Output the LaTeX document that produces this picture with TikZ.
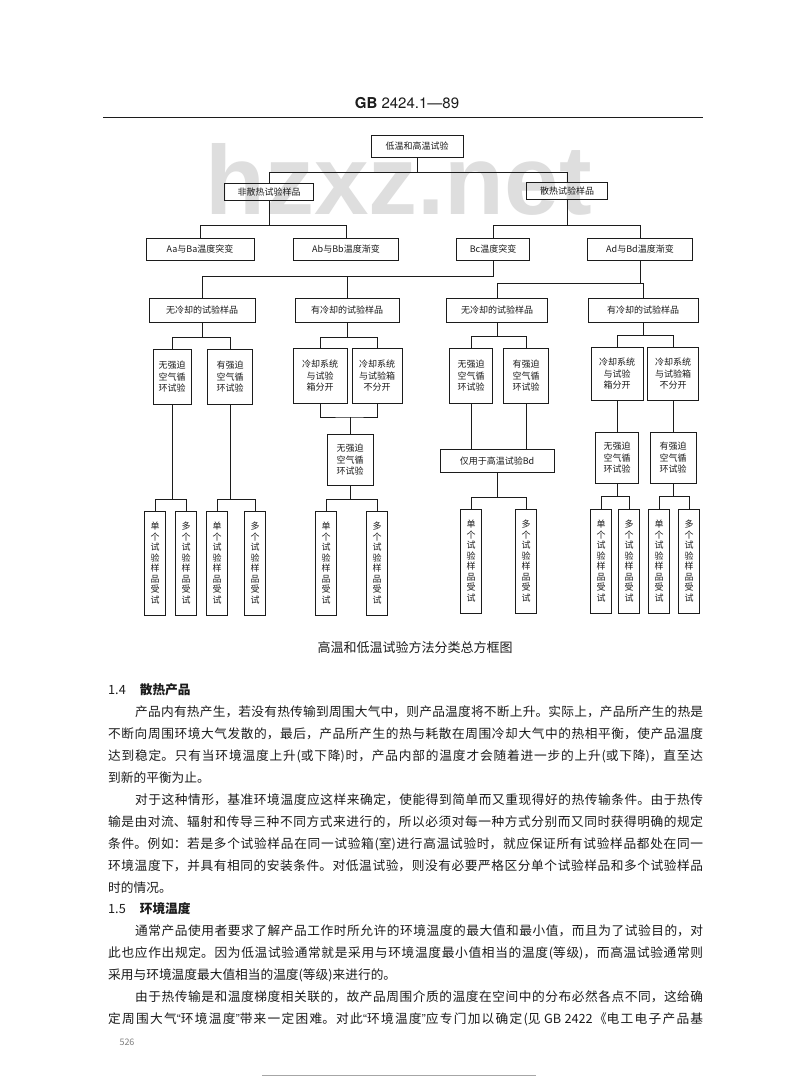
\documentclass[tikz,border=0pt]{standalone}
\usepackage{fontspec}
\setmainfont{Noto Sans CJK SC}
\newfontfamily\headfont{TeX Gyre Heros}
\newfontfamily\markfont{Liberation Sans}
\XeTeXlinebreaklocale "zh"
\XeTeXlinebreakskip=0pt plus 3pt
\definecolor{inkblack}{RGB}{28,28,28}
\definecolor{wmgray}{RGB}{222,222,222}
\newcommand{\lquo}{{\headfont “}}
\newcommand{\rquo}{{\headfont ”}}
\usetikzlibrary{calc}
\tikzset{
  box/.style={draw=inkblack, line width=1pt, inner sep=0pt, text=inkblack, font=\fontsize{9}{11}\selectfont, align=center},
  stack/.style={box, font=\fontsize{9}{11.5}\selectfont},
  leaf/.style={box, minimum width=21pt, minimum height=104pt, font=\fontsize{9}{10.5}\selectfont},
  conn/.style={draw=inkblack, line width=0.8pt},
  bodyline/.style={anchor=west, inner sep=0pt, text=inkblack, font=\fontsize{12.7}{15}\selectfont},
  fullline/.style={bodyline, align=justify, execute at begin node={\parfillskip=0pt\relax}},
}

\begin{document}
\begin{tikzpicture}[x=1pt, y=-1pt]
  \useasboundingbox (0,0) rectangle (800,1082);
  \fill[white] (0,0) rectangle (800,1082);

  % page head
  \node[text=inkblack, font=\headfont\fontsize{15}{17}\selectfont] (gbno) at (407,103) {\textbf{GB} 2424.1—89};
  \draw[line width=1pt, inkblack] (103,117) -- (703,117);

  % watermark
  \node[anchor=base west, inner sep=0pt, text=wmgray, font=\markfont\bfseries\fontsize{98}{98}\selectfont] (wmark) at (205,214) {hzxz.net};

  % Level 0 and 1
  \node[box, minimum width=92pt, minimum height=22pt] (root) at (417,146) {低温和高温试验};
  \node[box, minimum width=89pt, minimum height=17pt] (nonhs) at (269,192) {非散热试验样品};
  \node[box, minimum width=81pt, minimum height=17pt] (hs) at (567,191) {散热试验样品};

  % Level 2: test methods
  \node[box, minimum width=108pt, minimum height=22pt] (aaba) at (200,249) {Aa与Ba温度突变};
  \node[box, minimum width=105pt, minimum height=22pt] (abbb) at (346,249) {Ab与Bb温度渐变};
  \node[box, minimum width=73pt, minimum height=22pt] (bc) at (493,249) {Bc温度突变};
  \node[box, minimum width=105pt, minimum height=22pt] (adbd) at (640,249) {Ad与Bd温度渐变};

  % Level 3: cooling
  \node[box, minimum width=106pt, minimum height=24pt] (nocoolA) at (202,310) {无冷却的试验样品};
  \node[box, minimum width=104pt, minimum height=24pt] (coolA) at (347,310) {有冷却的试验样品};
  \node[box, minimum width=101pt, minimum height=24pt] (nocoolB) at (497,310) {无冷却的试验样品};
  \node[box, minimum width=110pt, minimum height=24pt] (coolB) at (643,310) {有冷却的试验样品};

  % Level 4
  \node[stack, minimum width=38pt, minimum height=55pt] (freeA) at (172,377) {无强迫\\空气循\\环试验};
  \node[stack, minimum width=45pt, minimum height=55pt] (forcedA) at (230,377) {有强迫\\空气循\\环试验};
  \node[stack, minimum width=54pt, minimum height=55pt] (sepA) at (320,376) {冷却系统\\与试验\\箱分开};
  \node[stack, minimum width=50pt, minimum height=55pt] (joinA) at (377,376) {冷却系统\\与试验箱\\不分开};
  \node[stack, minimum width=43pt, minimum height=55pt] (freeB) at (471,376) {无强迫\\空气循\\环试验};
  \node[stack, minimum width=45pt, minimum height=55pt] (forcedB) at (526,376) {有强迫\\空气循\\环试验};
  \node[stack, minimum width=52pt, minimum height=53pt] (sepB) at (617,374) {冷却系统\\与试验\\箱分开};
  \node[stack, minimum width=51pt, minimum height=53pt] (joinB) at (673,374) {冷却系统\\与试验箱\\不分开};

  % Level 5
  \node[stack, minimum width=46pt, minimum height=51pt] (freeA2) at (350,460) {无强迫\\空气循\\环试验};
  \node[box, minimum width=114pt, minimum height=23pt] (bdonly) at (497,461) {仅用于高温试验Bd};
  \node[stack, minimum width=43pt, minimum height=51pt] (freeB2) at (617,458) {无强迫\\空气循\\环试验};
  \node[stack, minimum width=46pt, minimum height=51pt] (forcedB2) at (673,458) {有强迫\\空气循\\环试验};

  % Level 6: single / multiple samples
  \node[leaf] (solo1) at (155,563) {单\\个\\试\\验\\样\\品\\受\\试};
  \node[leaf] (multi1) at (186,563) {多\\个\\试\\验\\样\\品\\受\\试};
  \node[leaf] (solo2) at (217,563) {单\\个\\试\\验\\样\\品\\受\\试};
  \node[leaf] (multi2) at (255,563) {多\\个\\试\\验\\样\\品\\受\\试};
  \node[leaf] (solo3) at (326,563) {单\\个\\试\\验\\样\\品\\受\\试};
  \node[leaf] (multi3) at (377,563) {多\\个\\试\\验\\样\\品\\受\\试};
  \node[leaf] (solo4) at (471,561) {单\\个\\试\\验\\样\\品\\受\\试};
  \node[leaf] (multi4) at (526,561) {多\\个\\试\\验\\样\\品\\受\\试};
  \node[leaf] (solo5) at (601,561) {单\\个\\试\\验\\样\\品\\受\\试};
  \node[leaf] (multi5) at (629,561) {多\\个\\试\\验\\样\\品\\受\\试};
  \node[leaf] (solo6) at (659,561) {单\\个\\试\\验\\样\\品\\受\\试};
  \node[leaf] (multi6) at (689,561) {多\\个\\试\\验\\样\\品\\受\\试};

  % connectors, top half
  \coordinate (j0) at (417,172);
  \draw[conn] (root) -- (j0) -| (nonhs);
  \draw[conn] (j0) -| (hs);
  \coordinate (j1) at (269,225);
  \draw[conn] (nonhs) -- (j1) -| (aaba);
  \draw[conn] (j1) -| (abbb);
  \coordinate (j2) at (567,225);
  \draw[conn] (hs) -- (j2) -| (bc);
  \draw[conn] (j2) -| (adbd);
  \coordinate (j3) at (493,276);
  \draw[conn] (bc) -- (j3) -| (nocoolA);
  \draw[conn] (j3) -| (coolA);
  \coordinate (j4) at (640,283);
  \draw[conn] (adbd) -- (j4) -| (nocoolB);
  \draw[conn] (j4) -| (coolB);

  % connectors, cooling branches
  \coordinate (j5) at (202,337);
  \draw[conn] (nocoolA) -- (j5) -| (freeA);
  \draw[conn] (j5) -| (forcedA);
  \coordinate (j6) at (347,337);
  \draw[conn] (coolA) -- (j6) -| (sepA);
  \draw[conn] (j6) -| (joinA);
  \coordinate (j7) at (497,336);
  \draw[conn] (nocoolB) -- (j7) -| (freeB);
  \draw[conn] (j7) -| (forcedB);
  \coordinate (j8) at (643,335);
  \draw[conn] (coolB) -- (j8) -| (sepB);
  \draw[conn] (j8) -| (joinB);

  \coordinate (m1) at (350,417);
  \draw[conn] (sepA) |- (m1) -| (joinA);
  \draw[conn] (m1) -- (freeA2);
  \draw[conn] (freeB) -- (freeB |- bdonly.north);
  \draw[conn] (forcedB) -- (forcedB |- bdonly.north);
  \draw[conn] (sepB) -- (freeB2);
  \draw[conn] (joinB) -- (forcedB2);

  % connectors to leaves
  \coordinate (k1) at (172,499);
  \draw[conn] (freeA) -- (k1) -| (solo1);
  \draw[conn] (k1) -| (multi1);
  \coordinate (k2) at (230,499);
  \draw[conn] (forcedA) -- (k2) -| (solo2);
  \draw[conn] (k2) -| (multi2);
  \coordinate (k3) at (350,499);
  \draw[conn] (freeA2) -- (k3) -| (solo3);
  \draw[conn] (k3) -| (multi3);
  \coordinate (k4) at (497,497);
  \draw[conn] (bdonly) -- (k4) -| (solo4);
  \draw[conn] (k4) -| (multi4);
  \coordinate (k5) at (617,496);
  \draw[conn] (freeB2) -- (k5) -| (solo5);
  \draw[conn] (k5) -| (multi5);
  \coordinate (k6) at (673,496);
  \draw[conn] (forcedB2) -- (k6) -| (solo6);
  \draw[conn] (k6) -| (multi6);

  % caption and body text
  \node[text=inkblack, font=\fontsize{13}{15}\selectfont] (caption) at (415,648) {高温和低温试验方法分类总方框图};

  \node[bodyline] (sec14) at (108,690) {1.4\hspace{14pt}{\bfseries 散热产品}};
  \node[fullline, text width=568pt] (p1a) at (135,712) {产品内有热产生，若没有热传输到周围大气中，则产品温度将不断上升。实际上，产品所产生的热是};
  \node[fullline, text width=595pt] (p1b) at (108,734) {不断向周围环境大气发散的，最后，产品所产生的热与耗散在周围冷却大气中的热相平衡，使产品温度};
  \node[fullline, text width=595pt] (p1c) at (108,756) {达到稳定。只有当环境温度上升(或下降)时，产品内部的温度才会随着进一步的上升(或下降)，直至达};
  \node[bodyline] (p1d) at (108,778) {到新的平衡为止。};

  \node[fullline, text width=568pt] (p2a) at (135,800) {对于这种情形，基准环境温度应这样来确定，使能得到简单而又重现得好的热传输条件。由于热传};
  \node[fullline, text width=595pt] (p2b) at (108,822) {输是由对流、辐射和传导三种不同方式来进行的，所以必须对每一种方式分别而又同时获得明确的规定};
  \node[fullline, text width=595pt] (p2c) at (108,844) {条件。例如：若是多个试验样品在同一试验箱(室)进行高温试验时，就应保证所有试验样品都处在同一};
  \node[fullline, text width=595pt] (p2d) at (108,866) {环境温度下，并具有相同的安装条件。对低温试验，则没有必要严格区分单个试验样品和多个试验样品};
  \node[bodyline] (p2e) at (108,888) {时的情况。};

  \node[bodyline] (sec15) at (108,909) {1.5\hspace{14pt}{\bfseries 环境温度}};
  \node[fullline, text width=568pt] (p3a) at (135,931) {通常产品使用者要求了解产品工作时所允许的环境温度的最大值和最小值，而且为了试验目的，对};
  \node[fullline, text width=595pt] (p3b) at (108,953) {此也应作出规定。因为低温试验通常就是采用与环境温度最小值相当的温度(等级)，而高温试验通常则};
  \node[bodyline] (p3c) at (108,975) {采用与环境温度最大值相当的温度(等级)来进行的。};
  \node[fullline, text width=568pt] (p4a) at (135,997) {由于热传输是和温度梯度相关联的，故产品周围介质的温度在空间中的分布必然各点不同，这给确};
  \node[fullline, text width=595pt] (p4b) at (108,1019) {定周围大气\lquo 环境温度\rquo 带来一定困难。对此\lquo 环境温度\rquo 应专门加以确定(见 GB 2422《电工电子产品基};

  % page foot
  \node[text=gray, font=\fontsize{9}{10}\selectfont] (pageno) at (127,1042) {526};
  \draw[line width=0.8pt, gray!70] (262,1075) -- (536,1075);
\end{tikzpicture}
\end{document}
